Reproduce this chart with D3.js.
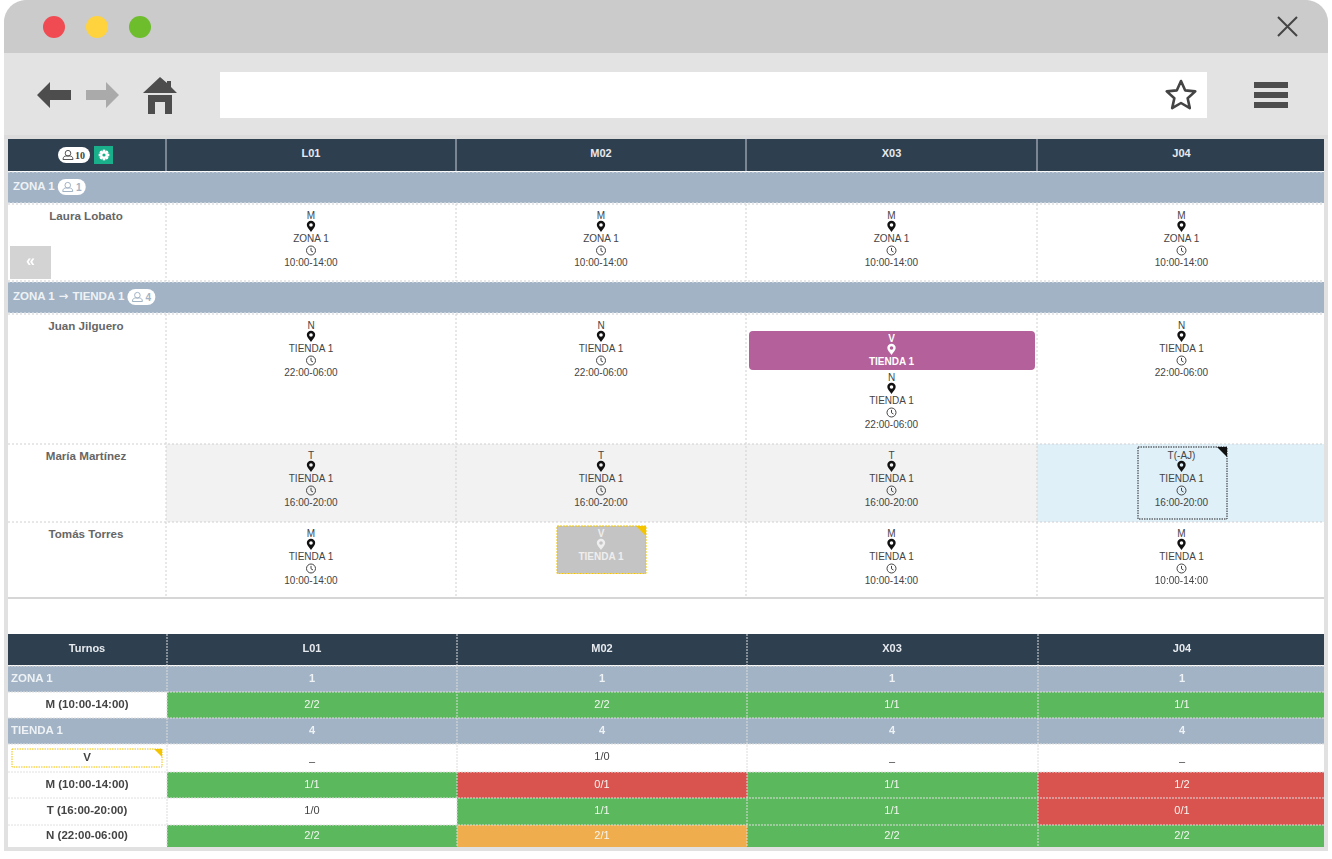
<!DOCTYPE html>
<html>

<head>
    <title>cuadrante turnos</title>
    <meta charset="utf-8">
    <style>
    body {
        margin: 0;
        background: #fff;
    }

    svg {
        display: block;
        filter: blur(0.3px);
    }

    text {
        font-family: "Liberation Sans", Arial, sans-serif;
        dominant-baseline: central;
    }
    </style>
</head>

<body>
    <svg id="chart" width="1332" height="859"></svg>
    <script src="https://d3js.org/d3.v7.min.js"></script>
    <script>
    // datos
    const days = ['L01', 'M02', 'X03', 'J04'];
    const totalStaff = '10';
    const groupFrom = ['ZONA 1', 'ZONA 1'];
    const groupTo = ['', 'TIENDA 1'];
    const groupCounts = ['1', '4'];
    const employees = ['Laura Lobato', 'Juan Jilguero', 'María Martínez', 'Tomás Torres'];
    const employeeSites = ['ZONA 1', 'TIENDA 1', 'TIENDA 1', 'TIENDA 1'];
    const lauraShifts = ['M', 'M', 'M', 'M'];
    const juanShifts = ['N', 'N', 'N', 'N'];
    const mariaShifts = ['T', 'T', 'T', 'T'];
    const tomasShifts = ['M', 'V', 'M', 'M'];
    const shiftHours = { M: '10:00-14:00', T: '16:00-20:00', N: '22:00-06:00' };

    const summaryTitle = 'Turnos';
    const summaryRows = ['ZONA 1', 'M (10:00-14:00)', 'TIENDA 1', 'V', 'M (10:00-14:00)', 'T (16:00-20:00)', 'N (22:00-06:00)'];
    const zone1Count = ['1', '1', '1', '1'];
    const zone1Morning = ['2/2', '2/2', '1/1', '1/1'];
    const store1Count = ['4', '4', '4', '4'];
    const store1Holiday = ['_', '1/0', '_', '_'];
    const store1Morning = ['1/1', '0/1', '1/1', '1/2'];
    const store1Afternoon = ['1/0', '1/1', '1/1', '0/1'];
    const store1Night = ['2/2', '2/1', '2/2', '2/2'];

    // layout
    const colTop = d3.scaleOrdinal(days, [166, 456, 746, 1037]);
    const colBottom = d3.scaleOrdinal(days, [167, 457, 747, 1038]);
    const midTop = d3.scaleOrdinal(days, [311, 601, 891.5, 1181.5]);
    const midBottom = d3.scaleOrdinal(days, [312, 602, 892, 1182]);
    const tableLeft = 8, tableRight = 1324;
    const groupY = d3.scaleOrdinal(d3.range(2), [172, 282]);
    const employeeY = d3.scaleOrdinal(employees, [204, 314, 444, 522]);
    const employeeH = d3.scaleOrdinal(employees, [77, 130, 78, 75]);
    const summaryY = d3.scaleOrdinal(d3.range(7), [666, 692, 718, 744, 772, 798, 825]);
    const summaryH = d3.scaleOrdinal(d3.range(7), [26, 26, 26, 28, 26, 27, 22]);

    const navy = '#2e3f50', steel = '#a1b3c5', ink = '#444', dash = '#cfcfcf';
    const cellWidth = (scale, i) => (i < 3 ? scale(days[i + 1]) : tableRight) - scale(days[i]);

    const svg = d3.select('#chart');

    const text = function(g, x, y, s, size, fill, bold, anchor) {
        return g.append('text').attr('x', x).attr('y', y).text(s)
            .attr('font-size', size).attr('fill', fill)
            .attr('font-weight', bold ? 'bold' : 'normal')
            .attr('text-anchor', anchor || 'middle');
    };
    const rect = function(g, x, y, w, h, fill) {
        return g.append('rect').attr('x', x).attr('y', y).attr('width', w).attr('height', h).attr('fill', fill);
    };
    const line = function(g, x1, y1, x2, y2, color) {
        return g.append('line').attr('x1', x1).attr('y1', y1).attr('x2', x2).attr('y2', y2)
            .attr('stroke', color).attr('stroke-dasharray', '2 2');
    };

    // iconos
    const pin = function(g, x, y, color) {
        g.append('path').attr('transform', `translate(${x},${y})`).attr('fill', color).attr('fill-rule', 'evenodd')
            .attr('d', 'M0,5.5 C-1.4,3.2 -4.2,1 -4.2,-1.5 A4.2,4.2 0 1 1 4.2,-1.5 C4.2,1 1.4,3.2 0,5.5 Z M1.8,-1.5 A1.8,1.8 0 1 0 -1.8,-1.5 A1.8,1.8 0 1 0 1.8,-1.5 Z');
    };
    const clock = function(g, x, y) {
        const c = g.append('g').attr('transform', `translate(${x},${y})`).attr('fill', 'none').attr('stroke', '#444').attr('stroke-width', 1);
        c.append('circle').attr('r', 4.5);
        c.append('path').attr('d', 'M0,-2.6 V0.3 L2,1.5');
    };
    const person = function(g, x, y, color) {
        const c = g.append('g').attr('transform', `translate(${x},${y})`).attr('fill', 'none').attr('stroke', color).attr('stroke-width', 1);
        c.append('circle').attr('cy', -1.8).attr('r', 2.8);
        c.append('path').attr('d', 'M-5,4.5 C-5,1.5 -3,1 -2,1 H2 C3,1 5,1.5 5,4.5 Z');
    };
    const gear = function(g, x, y) {
        const c = g.append('g').attr('transform', `translate(${x},${y})`);
        d3.range(8).forEach(function(i) {
            c.append('rect').attr('x', -1.2).attr('y', -5.2).attr('width', 2.4).attr('height', 10.4).attr('fill', '#fff')
                .attr('transform', `rotate(${i * 22.5 * 2})`);
        });
        c.append('circle').attr('r', 3.8).attr('fill', '#fff');
        c.append('circle').attr('r', 1.6).attr('fill', '#1aaf8b');
    };

    // ventana
    const chrome = svg.append('g');
    chrome.append('path').attr('fill', '#e1e1e1').attr('d', d3.line()([[4, 851], [4, 20], [24, 0], [1308, 0], [1328, 20], [1328, 851]]) + 'Z');
    chrome.append('path').attr('fill', '#cbcbcb').attr('d', 'M4,53 V22 A22,22 0 0 1 26,0 H1306 A22,22 0 0 1 1328,22 V53 Z');
    rect(chrome, 4, 53, 1324, 82, '#e3e3e3');
    rect(chrome, 4, 135, 1324, 4, '#dcdcdc');
    rect(chrome, 8, 139, 1316, 708, '#fff');
    chrome.selectAll('circle.light').data(['#f04b52', '#ffd33d', '#6dbd2d']).enter().append('circle')
        .attr('cx', (d, i) => 54 + i * 43).attr('cy', 27).attr('r', 11).attr('fill', d => d);
    chrome.append('path').attr('stroke', '#444').attr('stroke-width', 2).attr('fill', 'none').attr('d', 'M1278,17 L1297,36 M1297,17 L1278,36');
    chrome.append('path').attr('fill', '#4d4d4d').attr('d', 'M37,95 L50,82 V90 H71 V100 H50 V108 Z');
    chrome.append('path').attr('fill', '#aaa').attr('d', 'M119,95 L106,82 V90 H86 V100 H106 V108 Z');
    chrome.append('path').attr('fill', '#4d4d4d').attr('d', 'M143,93 L160,77 L167,83 V81 H171 V87 L177,93 Z M148,95 H172 V114 H165 V102 H155 V114 H148 Z');
    rect(chrome, 220, 72, 987, 46, '#fff');
    chrome.append('path').attr('fill', 'none').attr('stroke', '#444').attr('stroke-width', 2.6).attr('stroke-linejoin', 'round')
        .attr('d', d3.lineRadial().curve(d3.curveLinearClosed)(d3.range(10).map(i => [i * Math.PI / 5, i % 2 ? 7 : 15])))
        .attr('transform', 'translate(1181,96)');
    [82, 92, 102].forEach(y => rect(chrome, 1254, y, 34, 6, '#4d4d4d'));

    // cabecera
    const head = svg.append('g');
    rect(head, tableLeft, 139, tableRight - tableLeft, 32, navy);
    head.append('rect').attr('x', 58).attr('y', 147).attr('width', 32).attr('height', 16).attr('rx', 8).attr('fill', '#fff');
    person(head, 68, 155, '#555');
    text(head, 80, 155, totalStaff, 10, '#444', true).attr('style', 'font-family:"Liberation Serif",serif');
    rect(head, 94, 146, 19, 18, '#1aaf8b');
    gear(head, 104, 155);
    head.selectAll('text.day').data(days).enter().append('text').attr('class', 'day')
        .attr('x', d => midTop(d)).attr('y', 153)
        .attr('text-anchor', 'middle').attr('font-size', 11).attr('font-weight', 'bold').attr('fill', '#e6eaee').text(d => d);
    days.forEach(d => head.append('line').attr('x1', colTop(d)).attr('x2', colTop(d)).attr('y1', 139).attr('y2', 171).attr('stroke', '#c8ced4'));

    // grupos
    const groups = svg.append('g');
    groupFrom.forEach(function(from, i) {
        const y = groupY(i);
        rect(groups, tableLeft, y, tableRight - tableLeft, 31, steel);
        const t = text(groups, 13, y + 14, from, 11.5, '#eef2f5', true, 'start');
        if (groupTo[i]) {
            t.append('tspan').attr('style', 'font-family:"DejaVu Sans",sans-serif').text(' \u2192 ');
            t.append('tspan').text(groupTo[i]);
        }
        const px = 13 + t.node().getComputedTextLength() + 3;
        groups.append('rect').attr('x', px).attr('y', y + 7).attr('width', 28).attr('height', 16).attr('rx', 8).attr('fill', '#fff');
        person(groups, px + 10, y + 15, steel);
        text(groups, px + 21, y + 15, groupCounts[i], 10, steel, true);
    });

    // empleados
    const body = svg.append('g');
    const stack = function(g, cx, y, label, site, hours, color, bold) {
        text(g, cx, y, label, 10, color, bold);
        pin(g, cx, y + 11.5, color === ink ? '#111' : color);
        text(g, cx, y + 23, site, 10, color, bold);
        if (hours) {
            clock(g, cx, y + 35.5);
            text(g, cx, y + 47, hours, 10, color, bold);
        }
    };
    const allShifts = [lauraShifts, juanShifts, mariaShifts, tomasShifts];
    employees.forEach(function(name, r) {
        const y = employeeY(name), h = employeeH(name);
        text(body, 86, y + 11.5, name, 11.6, '#666', true);
        days.forEach(function(day, c) {
            const x = colTop(day), w = cellWidth(colTop, c), cx = midTop(day);
            if (name == 'María Martínez') {
                rect(body, x, y, w, h, c == 3 ? '#dff0f9' : '#f2f2f2');
            }
            const shift = allShifts[r][c];
            if (shift == 'V') {
                rect(body, cx - 44, y + 4, 89, 47.5, '#c4c4c4').attr('stroke', '#f2c200').attr('stroke-dasharray', '2 1');
                body.append('path').attr('fill', '#f5c400').attr('d', `M${cx + 35},${y + 4} H${cx + 45} V${y + 14} Z`);
                stack(body, cx, y + 11, 'V', employeeSites[r], null, '#eee', true);
            } else if (name == 'Juan Jilguero' && day == 'X03') {
                body.append('rect').attr('x', x + 3).attr('y', y + 17).attr('width', w - 5).attr('height', 39).attr('rx', 4).attr('fill', '#b3609b');
                stack(body, cx, y + 24, 'V', employeeSites[r], null, '#fff', true);
                stack(body, cx, y + 63, shift, employeeSites[r], shiftHours[shift], ink);
            } else if (name == 'María Martínez' && day == 'J04') {
                rect(body, cx - 43.5, y + 3, 89, 72, 'none').attr('stroke', '#222').attr('stroke-dasharray', '1.5 1');
                body.append('path').attr('fill', '#111').attr('d', `M${cx + 35.5},${y + 3} H${cx + 45.5} V${y + 13} Z`);
                stack(body, cx, y + 11, shift + '(-AJ)', employeeSites[r], shiftHours[shift], ink);
            } else {
                stack(body, cx, y + 11, shift, employeeSites[r], shiftHours[shift], ink);
            }
        });
    });
    // rejilla
    days.forEach(d => line(body, colTop(d), 204, colTop(d), 281, dash));
    days.forEach(d => line(body, colTop(d), 314, colTop(d), 597, dash));
    [204, 281, 314, 444, 522].forEach(y => line(body, tableLeft, y, tableRight, y, dash));
    [172, 203, 282, 313].forEach(y => line(body, tableLeft, y, tableRight, y, '#e4e8ec'));
    rect(body, 10, 246, 41, 33, '#d3d3d3');
    text(body, 30.5, 260, '\u00ab', 16, '#fff', true);
    rect(body, tableLeft, 597, tableRight - tableLeft, 2, '#d6d6d6');

    // tabla resumen
    const summary = svg.append('g');
    const summaryValues = [zone1Count, zone1Morning, store1Count, store1Holiday, store1Morning, store1Afternoon, store1Night];
    const isGroup = r => summaryValues[r] === zone1Count || summaryValues[r] === store1Count;
    // verde cubierto, rojo falta gente, naranja sobra, blanco sin demanda
    const coverColor = function(v) {
        if (v.indexOf('/') < 0) return '#fff';
        const [real, need] = v.split('/').map(Number);
        if (need == 0) return '#fff';
        if (real == need) return '#5cb85c';
        return real < need ? '#d9534f' : '#f0ad4e';
    };

    rect(summary, tableLeft, 634, tableRight - tableLeft, 31, navy);
    text(summary, 87, 648, summaryTitle, 11, '#e6eaee', true);
    summary.selectAll('text.day').data(days).enter().append('text').attr('class', 'day')
        .attr('x', d => midBottom(d)).attr('y', 648)
        .attr('text-anchor', 'middle').attr('font-size', 11).attr('font-weight', 'bold').attr('fill', '#e6eaee').text(d => d);

    summaryRows.forEach(function(label, r) {
        const y = summaryY(r), h = summaryH(r), group = isGroup(r);
        if (group) {
            rect(summary, tableLeft, y, tableRight - tableLeft, h, steel);
            text(summary, 11, y + 12, label, 11.5, '#eef2f5', true, 'start');
        } else if (label == 'V') {
            rect(summary, 12, y + 5, 150, 18, '#fff').attr('stroke', '#f2c200').attr('stroke-dasharray', '1.5 1');
            summary.append('path').attr('fill', '#f5c400').attr('d', `M154,${y + 5} H162 V${y + 13} Z`);
            text(summary, 87, y + 13, label, 11.5, '#444', true);
        } else {
            text(summary, 87, y + h / 2 - 1.5, label, 11.5, '#444', true);
        }
        days.forEach(function(day, c) {
            const x = colBottom(day), w = cellWidth(colBottom, c), cx = midBottom(day), v = summaryValues[r][c];
            if (group) {
                text(summary, cx, y + 12, v, 11, '#eef2f5', true);
                return;
            }
            const fill = coverColor(v);
            rect(summary, x, y, w, h, fill);
            if (v == '_') {
                text(summary, cx, y + 17, '\u2013', 11, ink);
            } else {
                text(summary, cx, fill == '#fff' ? y + 12 : y + h / 2 - 1.5, v, 11, fill == '#fff' ? ink : '#f4f7f2');
            }
        });
    });
    days.forEach(d => line(summary, colBottom(d), 634, colBottom(d), 847, '#dcdcdc').attr('stroke-dasharray', '2 1'));
    [666, 692, 718, 744, 772, 798, 825].forEach(y => line(summary, tableLeft, y, tableRight, y, '#e0e0e0').attr('stroke-dasharray', '2 1'));
    </script>
</body>

</html>
